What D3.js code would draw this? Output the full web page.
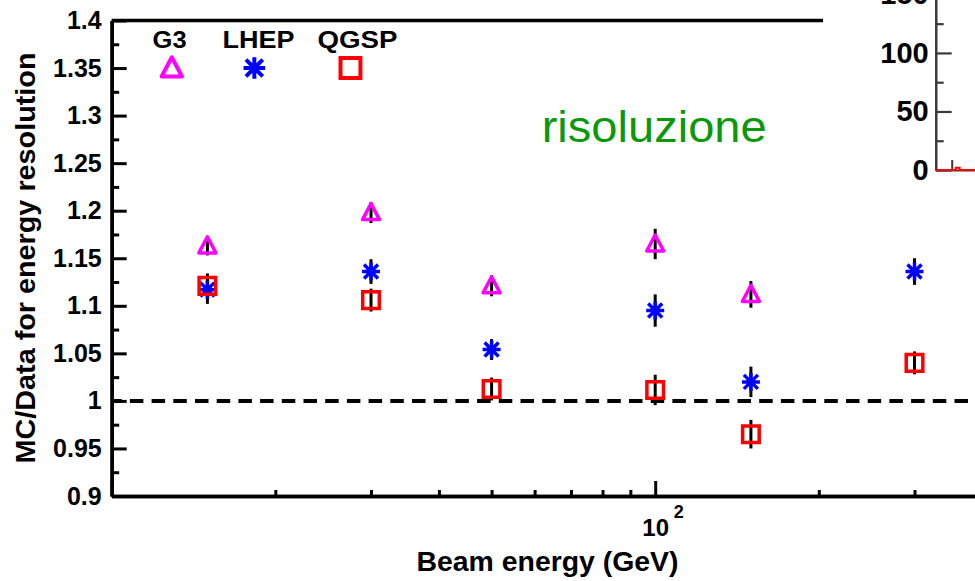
<!DOCTYPE html>
<html>
<head>
<meta charset="utf-8">
<script src="https://cdn.jsdelivr.net/npm/d3@7"></script>
<style>
  html, body { margin: 0; padding: 0; background: #fff; }
  svg { display: block; }
  text { font-family: "Liberation Sans", Arial, Helvetica, sans-serif; }
</style>
</head>
<body>
<svg id="chart" width="975" height="581"></svg>
<script>
// Beam energies (GeV)
const energies = [15, 30, 50, 100, 150, 300];

// MC/Data ratio of the energy resolution for each physics list, with errors
const g3Ratio   = [1.163, 1.198, 1.121, 1.165, 1.112];
const g3Err     = [0.010, 0.011, 0.011, 0.016, 0.014];
const lhepRatio = [1.117, 1.136, 1.054, 1.095, 1.020, 1.136];
const lhepErr   = [0.015, 0.013, 0.011, 0.017, 0.016, 0.014];
const qgspRatio = [1.121, 1.106, 1.0125, 1.0115, 0.965, 1.040];
const qgspErr   = [0.013, 0.012, 0.012, 0.016, 0.015, 0.012];

// Axis ticks
const yMajorTicks = [0.9, 0.95, 1.0, 1.05, 1.1, 1.15, 1.2, 1.25, 1.3, 1.35, 1.4];
const yMinorTicks = [0.925, 0.975, 1.025, 1.075, 1.125, 1.175, 1.225, 1.275, 1.325, 1.375];
const xMajorTicks = [10, 100, 1000];
const xMinorTicks = [20, 30, 40, 50, 60, 70, 80, 90, 200, 300, 400, 500, 600, 700, 800, 900];
const xLabelledTicks = [100];

// Legend entries: name, marker position and label position (GeV, ratio)
const legendNames   = ["G3", "LHEP", "QGSP"];
const legendWidths  = [34, 72, 80];
const legendMarkerE = [12.9, 18.3, 27.5];
const legendLabelE  = [12.78, 18.62, 28.33];
const legendMarkerY = 1.35;
const legendLabelY  = 1.371;

// Inset histogram (counts per bin) and its axis ticks
const insetCounts = [0, 0, 0, 0, 0, 2, 0, 0, 0, 0];
const insetMajorTicks = [0, 50, 100, 150];
const insetMinorTicks = [25, 75, 125];
const insetXTicks = [4];

const svg = d3.select("#chart");

const x = d3.scaleLog().domain([10, 1000]).range([111.7, 1198.7]);
const y = d3.scaleLinear().domain([0.9, 1.4]).range([496, 20.5]);

const AXIS_W = 3.5;

// ---- Reference line at ratio = 1
svg.append("line")
  .attr("x1", x(10)).attr("x2", x(1000))
  .attr("y1", y(1)).attr("y2", y(1))
  .attr("stroke", "#000").attr("stroke-width", 4)
  .attr("stroke-dasharray", "13.5 8.2").attr("stroke-dashoffset", 3.5);

// ---- Frame top line
svg.append("line")
  .attr("x1", x(10)).attr("x2", x(1000))
  .attr("y1", y(1.4)).attr("y2", y(1.4))
  .attr("stroke", "#000").attr("stroke-width", AXIS_W);

// ---- Y axis
function styleAxis(g, w) {
  g.selectAll("path.domain").attr("stroke", "#000").attr("stroke-width", w);
  g.selectAll(".tick line").attr("stroke", "#000").attr("stroke-width", 3);
}
const fmt = d => String(+d.toFixed(3));

const gyMinor = svg.append("g").attr("transform", `translate(${x(10)},0)`)
  .call(d3.axisLeft(y).tickValues(yMinorTicks).tickSize(-7.5).tickSizeOuter(0).tickFormat(""));
styleAxis(gyMinor, AXIS_W);
const gy = svg.append("g").attr("transform", `translate(${x(10)},0)`)
  .call(d3.axisLeft(y).tickValues(yMajorTicks).tickSize(-15).tickSizeOuter(0)
        .tickPadding(10).tickFormat(fmt));
styleAxis(gy, AXIS_W);
gy.selectAll("text").attr("font-size", 25).attr("font-weight", "bold")
  .attr("font-family", "'Liberation Sans', Arial, sans-serif").attr("fill", "#000");

// ---- X axis (log)
const gxMinor = svg.append("g").attr("transform", `translate(0,${y(0.9)})`)
  .call(d3.axisBottom(x).tickValues(xMinorTicks).tickSize(-6).tickSizeOuter(0).tickFormat(""));
styleAxis(gxMinor, AXIS_W);
const gx = svg.append("g").attr("transform", `translate(0,${y(0.9)})`)
  .call(d3.axisBottom(x).tickValues(xMajorTicks).tickSize(-15).tickSizeOuter(0).tickFormat(""));
styleAxis(gx, AXIS_W);
// power-of-ten labels: "10" with the exponent as superscript
gx.selectAll(".tick").filter(d => xLabelledTicks.includes(d)).each(function (d) {
  const t = d3.select(this);
  t.append("text").text("10")
    .attr("x", 0).attr("y", 40).attr("text-anchor", "middle")
    .attr("font-size", 24).attr("font-weight", "bold").attr("fill", "#000")
    .attr("font-family", "'Liberation Sans', Arial, sans-serif");
  t.append("text").text(String(Math.round(Math.log10(d))))
    .attr("x", 18).attr("y", 21.5).attr("text-anchor", "start")
    .attr("font-size", 18).attr("font-weight", "bold").attr("fill", "#000")
    .attr("font-family", "'Liberation Sans', Arial, sans-serif");
});

// ---- Axis titles
svg.append("text").text("Beam energy (GeV)")
  .attr("x", 547.5).attr("y", 571).attr("text-anchor", "middle")
  .attr("font-size", 28).attr("font-weight", "bold")
  .attr("textLength", 262).attr("lengthAdjust", "spacingAndGlyphs");

svg.append("text").text("MC/Data for energy resolution")
  .attr("transform", "translate(35,258) rotate(-90)")
  .attr("text-anchor", "middle")
  .attr("font-size", 27).attr("font-weight", "bold")
  .attr("textLength", 411).attr("lengthAdjust", "spacingAndGlyphs");

// ---- Marker shapes
function trianglePath(s) {
  return `M0,${-9 * s}L${8.5 * s},${7 * s}L${-8.5 * s},${7 * s}Z`;
}
function starPath(s) {
  const a = 9 * s, b = 7 * s;
  return `M0,${-a}V${a}M${-a},0H${a}M${-b},${-b}L${b},${b}M${-b},${b}L${b},${-b}`;
}
function squarePath(s) {
  const h = 8.3 * s;
  return `M${-h},${-h}H${h}V${h}H${-h}Z`;
}

const series = [
  { name: "G3",   vals: g3Ratio,   errs: g3Err,   color: "#ff00ff", shape: trianglePath, join: "round" },
  { name: "LHEP", vals: lhepRatio, errs: lhepErr, color: "#0000ff", shape: starPath,     join: "miter" },
  { name: "QGSP", vals: qgspRatio, errs: qgspErr, color: "#ff0000", shape: squarePath,   join: "miter" }
];

// ---- Error bars (behind markers)
const gErr = svg.append("g");
series.forEach(s => {
  gErr.selectAll(null).data(s.vals.map((v, i) => ({ e: energies[i], v, err: s.errs[i] })))
    .join("line")
    .attr("x1", d => x(d.e)).attr("x2", d => x(d.e))
    .attr("y1", d => y(d.v - d.err)).attr("y2", d => y(d.v + d.err))
    .attr("stroke", "#000").attr("stroke-width", 3);
});

// ---- Markers
series.forEach(s => {
  svg.append("g").selectAll("path")
    .data(s.vals.map((v, i) => ({ e: energies[i], v })))
    .join("path")
    .attr("transform", d => `translate(${x(d.e)},${y(d.v)})`)
    .attr("d", s.shape(1))
    .attr("fill", "none").attr("stroke", s.color).attr("stroke-width", 3.5)
    .attr("stroke-linejoin", s.join);
});

// ---- Legend
series.forEach((s, i) => {
  svg.append("path")
    .attr("transform", `translate(${x(legendMarkerE[i])},${y(legendMarkerY)})`)
    .attr("d", s.shape(1.2))
    .attr("fill", "none").attr("stroke", s.color).attr("stroke-width", 4)
    .attr("stroke-linejoin", s.join);
  svg.append("text").text(legendNames[i])
    .attr("x", x(legendLabelE[i])).attr("y", y(legendLabelY))
    .attr("text-anchor", "middle")
    .attr("font-size", 24).attr("font-weight", "bold")
    .attr("textLength", legendWidths[i]).attr("lengthAdjust", "spacingAndGlyphs");
});

// ---- Annotation
svg.append("text").text("risoluzione")
  .attr("x", 541.7).attr("y", 141.7)
  .attr("font-size", 44).attr("fill", "#0a990a")
  .attr("textLength", 225).attr("lengthAdjust", "spacingAndGlyphs");

// ---- Inset histogram panel (partly outside the view)
const inset = svg.append("g");
inset.append("rect")
  .attr("x", 823).attr("y", 0).attr("width", 975 - 823).attr("height", 188)
  .attr("fill", "#fff");

const yIn = d3.scaleLinear().domain([0, 150]).range([170, -5.6]);
const xIn = d3.scaleLinear().domain([0, 20]).range([935.7, 1015.7]);

const gInMinor = inset.append("g").attr("transform", `translate(${xIn(0)},0)`)
  .call(d3.axisLeft(yIn).tickValues(insetMinorTicks).tickSize(-8).tickSizeOuter(0).tickFormat(""));
const gIn = inset.append("g").attr("transform", `translate(${xIn(0)},0)`)
  .call(d3.axisLeft(yIn).tickValues(insetMajorTicks).tickSize(-16).tickSizeOuter(0)
        .tickPadding(7).tickFormat(d3.format("d")));
[gInMinor, gIn].forEach(g => {
  g.selectAll("path.domain").attr("stroke", "#3a3a3a").attr("stroke-width", 2.2);
  g.selectAll(".tick line").attr("stroke", "#3a3a3a").attr("stroke-width", 2.2);
});
gIn.selectAll("text").attr("font-size", 29).attr("font-weight", "bold").attr("fill", "#000")
  .attr("font-family", "'Liberation Sans', Arial, sans-serif");

const gInX = inset.append("g").attr("transform", `translate(0,${yIn(0)})`)
  .call(d3.axisBottom(xIn).tickValues(insetXTicks).tickSize(-10).tickSizeOuter(0).tickFormat(""));
gInX.selectAll("path.domain").attr("stroke", "#3a3a3a").attr("stroke-width", 2);
gInX.selectAll(".tick line").attr("stroke", "#3a3a3a").attr("stroke-width", 2);

// histogram outline as a step line
const steps = [];
insetCounts.forEach((c, i) => { steps.push([xIn(i), yIn(c)]); steps.push([xIn(i + 1), yIn(c)]); });
inset.append("path")
  .attr("d", d3.line()(steps))
  .attr("fill", "none").attr("stroke", "#ff0000").attr("stroke-width", 2);
</script>
</body>
</html>
